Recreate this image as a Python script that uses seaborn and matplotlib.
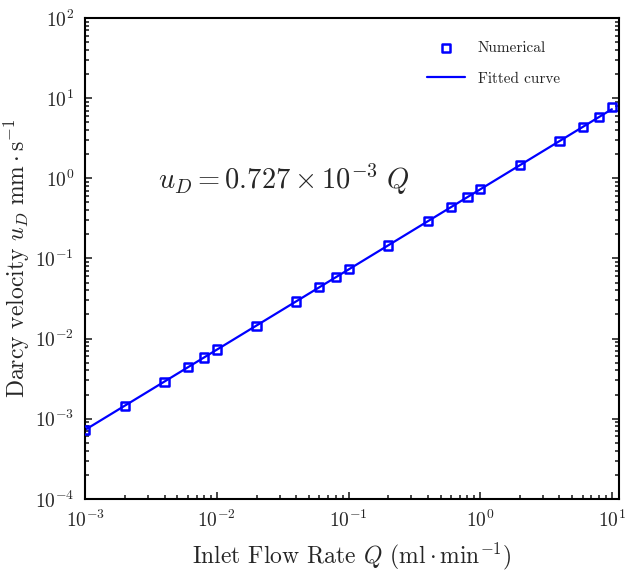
import numpy as np
import pandas as pd
import matplotlib
matplotlib.use("Agg")
import matplotlib.pyplot as plt
import seaborn as sns

# =====================================
# Data
# =====================================

flow_rate = [0.001, 0.002, 0.004, 0.006, 0.008, 0.01, 0.02, 0.04, 0.06, 0.08,
             0.1, 0.2, 0.4, 0.6, 0.8, 1.0, 2.0, 4.0, 6.0, 8.0, 10.0]
darcy_vel = [7.3e-4, 1.45e-3, 2.9e-3, 4.4e-3, 5.8e-3, 7.3e-3, 1.45e-2, 2.9e-2,
             4.4e-2, 5.8e-2, 7.3e-2, 0.145, 0.29, 0.44, 0.58, 0.73, 1.45, 2.9,
             4.4, 5.8, 7.8]

fit_q = [0.001, 10.0]
fit_u = [7.27e-4, 7.27]

df_num = pd.DataFrame({"Q": flow_rate, "u": darcy_vel})
df_fit = pd.DataFrame({"Q": fit_q, "u": fit_u})

# =====================================
# Style
# =====================================

sns.set_style("ticks")
plt.rcParams["font.family"] = ["cmr10", "DejaVu Serif"]
plt.rcParams["mathtext.fontset"] = "cm"
plt.rcParams["axes.formatter.use_mathtext"] = True

fig = plt.figure(figsize=(6.27, 5.8), dpi=100)
ax = fig.add_axes([0.136, 0.14, 0.851, 0.829])

sns.lineplot(data=df_fit, x="Q", y="u", ax=ax, color="blue", lw=1.6,
             label="Fitted curve", zorder=2)
sns.scatterplot(data=df_num, x="Q", y="u", ax=ax, marker="s", s=34,
                facecolor="none", edgecolor="blue", linewidth=1.8,
                label="Numerical", zorder=3)

ax.set_xscale("log")
ax.set_yscale("log")
ax.set_xlim(1e-3, 11.3)
ax.set_ylim(1e-4, 1e2)

ax.set_xlabel(r"Inlet Flow Rate $Q$ $(\mathrm{ml}\cdot\mathrm{min}^{-1})$",
              fontsize=17, labelpad=7)
ax.set_ylabel(r"Darcy velocity $u_D\ \mathrm{mm}\cdot\mathrm{s}^{-1}$",
              fontsize=17, labelpad=2)

ax.tick_params(which="both", direction="in", right=True, top=False,
               labelsize=14, width=1.2)
ax.tick_params(which="major", length=5, pad=8)
ax.tick_params(which="minor", length=3)
for sp in ax.spines.values():
    sp.set_linewidth(1.5)
    sp.set_color("black")

ax.text(0.372, 0.664, r"$u_D = 0.727 \times 10^{-3}\ Q$", transform=ax.transAxes,
        fontsize=20.5, ha="center", va="center")

handles, labels = ax.get_legend_handles_labels()
order = [labels.index("Numerical"), labels.index("Fitted curve")]
ax.legend([handles[i] for i in order], [labels[i] for i in order],
          loc="upper right", frameon=False, fontsize=11,
          bbox_to_anchor=(0.915, 0.98), handlelength=2.5, labelspacing=1.1)

fig.savefig("out.png", dpi=100)
